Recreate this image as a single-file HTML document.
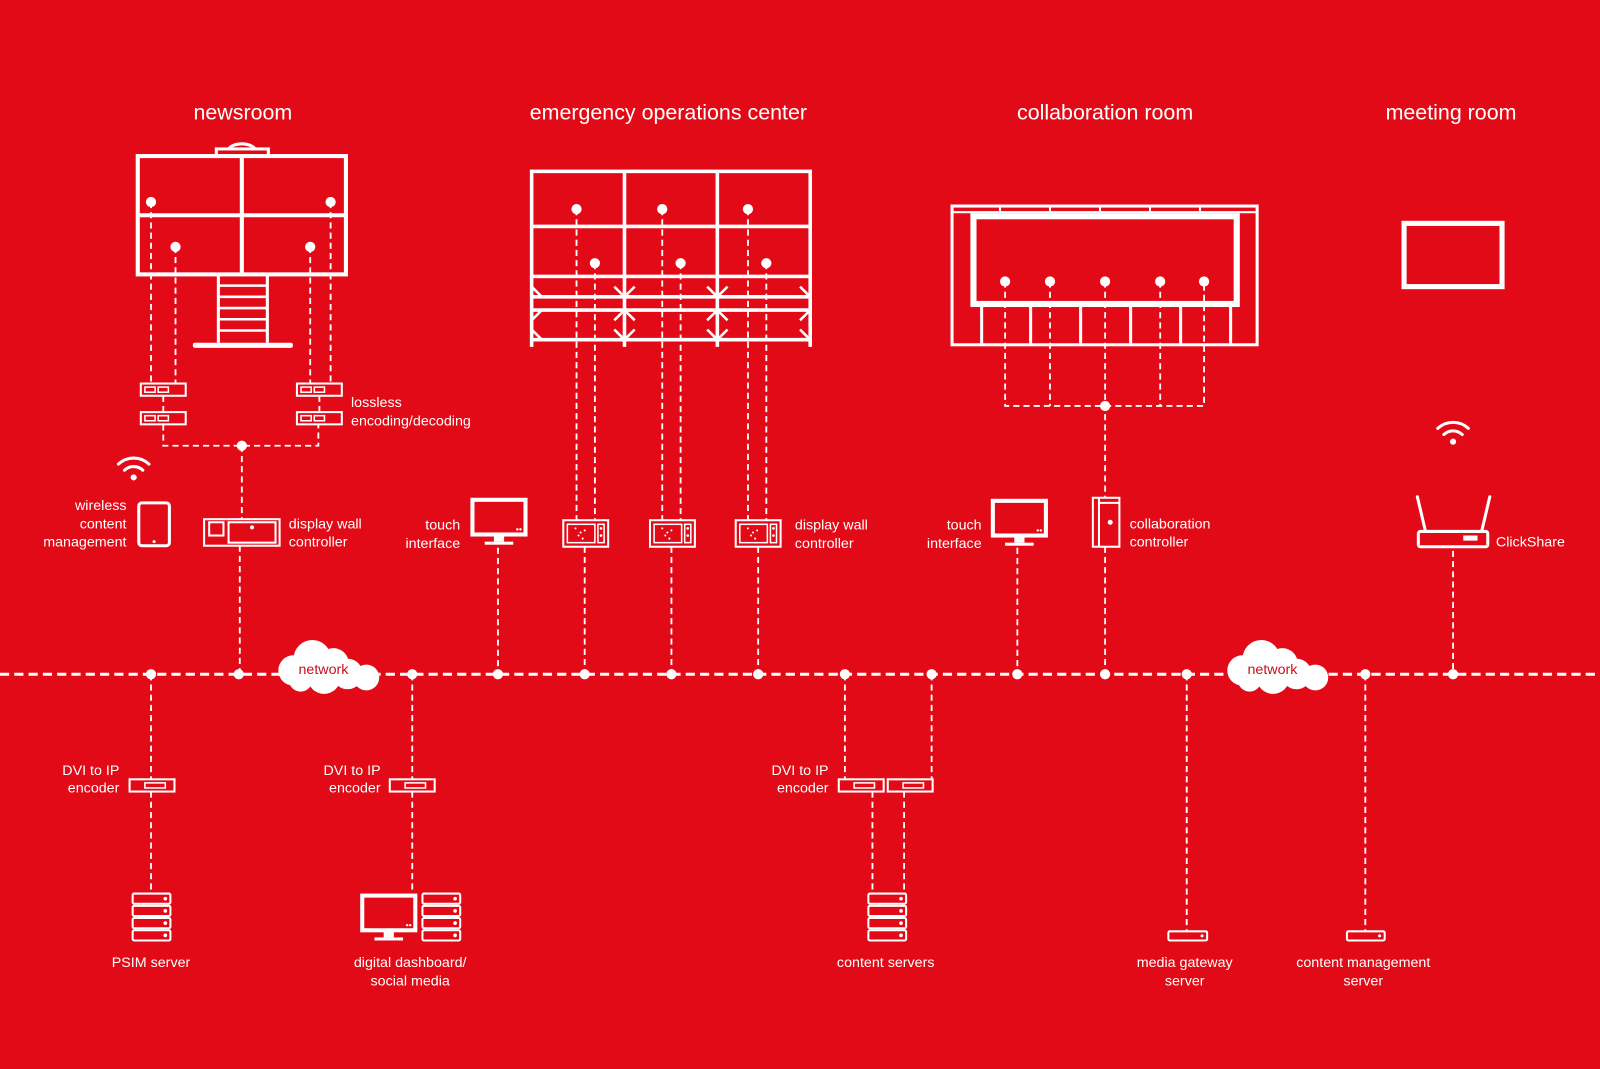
<!DOCTYPE html>
<html><head><meta charset="utf-8"><style>
html,body{margin:0;padding:0;background:#e30a17;}
svg{display:block}
text{font-family:"Liberation Sans",sans-serif;fill:#fff;font-size:14px;}
.t{font-size:21px;}
</style></head><body>
<svg width="1600" height="1069" viewBox="0 0 1568 1048" preserveAspectRatio="none" xmlns="http://www.w3.org/2000/svg">
<rect width="1568" height="1048" fill="#e30a17"/>
<defs>
<g id="srv"><g fill="none" stroke="#fff" stroke-width="2">
<rect x="0" y="0" width="37" height="10" rx="1.5"/><rect x="0" y="12" width="37" height="10" rx="1.5"/><rect x="0" y="24" width="37" height="10" rx="1.5"/><rect x="0" y="36" width="37" height="10" rx="1.5"/></g>
<g fill="#fff"><circle cx="32" cy="5" r="1.8"/><circle cx="32" cy="17" r="1.8"/><circle cx="32" cy="29" r="1.8"/><circle cx="32" cy="41" r="1.8"/></g></g>
<g id="enc"><rect x="0" y="0" width="44" height="12" fill="none" stroke="#fff" stroke-width="2"/><rect x="4" y="3.5" width="10" height="5" fill="none" stroke="#fff" stroke-width="1.5"/><rect x="17" y="3.5" width="10" height="5" fill="none" stroke="#fff" stroke-width="1.5"/></g>
<g id="dvi"><rect x="0" y="0" width="44" height="12" fill="none" stroke="#fff" stroke-width="2"/><rect x="15" y="3.5" width="20" height="5" fill="none" stroke="#fff" stroke-width="1.5"/></g>
<g id="mon"><rect x="0" y="0" width="52" height="34" fill="none" stroke="#fff" stroke-width="4"/><rect x="21" y="34" width="10" height="7" fill="#fff"/><rect x="12" y="41" width="28" height="3" fill="#fff"/><circle cx="44" cy="29" r="1.2" fill="#fff"/><circle cx="47" cy="29" r="1.2" fill="#fff"/></g>
<g id="dwc"><rect x="0" y="0" width="44" height="26" fill="none" stroke="#fff" stroke-width="2"/><rect x="4" y="4" width="27" height="18" fill="none" stroke="#fff" stroke-width="1.5"/><rect x="34" y="4" width="6" height="18" fill="none" stroke="#fff" stroke-width="1.5"/><g fill="#fff"><circle cx="37" cy="8" r="1.3"/><circle cx="37" cy="15" r="1.3"/><circle cx="12" cy="8" r="1"/><circle cx="17" cy="12" r="1"/><circle cx="21" cy="10" r="1"/><circle cx="15" cy="15" r="1"/><circle cx="19" cy="18" r="1"/></g></g>
<g id="wifi" fill="none" stroke="#fff" stroke-width="3" stroke-linecap="round"><path d="M-15,-8 A22,22 0 0 1 15,-8"/><path d="M-9,-2 A13,13 0 0 1 9,-2"/><circle cx="0" cy="5" r="3" fill="#fff" stroke="none"/></g>
<g id="cloud" fill="#fff"><circle cx="-22" cy="2" r="13"/><circle cx="-6" cy="-8" r="16"/><circle cx="12" cy="-4" r="13"/><circle cx="24" cy="5" r="13"/><circle cx="4" cy="8" r="14"/><circle cx="-16" cy="10" r="10"/><circle cx="40" cy="8" r="11"/></g>
</defs>

<text class="t" x="238" y="117" text-anchor="middle">newsroom</text>
<text class="t" x="655" y="117" text-anchor="middle">emergency operations center</text>
<text class="t" x="1083" y="117" text-anchor="middle">collaboration room</text>
<text class="t" x="1422" y="117" text-anchor="middle">meeting room</text>

<g stroke="#fff" stroke-width="1.8" stroke-dasharray="6,4" fill="none">
<path d="M148,198V376 M172,242V376 M304,242V376 M324,198V376"/>
<path d="M160,388V404 M313,388V404 M160,416V437H312V416 M237,437V509 M235,535V661"/>
<path d="M565,205V510 M583,258V510 M649,205V510 M667,258V510 M733,205V510 M751,258V510"/>
<path d="M573,536V661 M658,536V661 M743,536V661 M488,537V661"/>
<path d="M985,276V398H1180V276 M1029,276V398 M1083,276V488 M1137,276V398 M1083,536V661 M997,537V661"/>
<path d="M1424,540V661"/>
<path d="M148,661V764 M148,776V876 M404,661V764 M404,776V876"/>
<path d="M828,661V764 M913,661V764 M855,776V876 M886,776V876"/>
<path d="M1163,661V913 M1338,661V913"/>
</g>
<path d="M0,661H1568" stroke="#fff" stroke-width="3" stroke-dasharray="9,5"/>

<g fill="#fff">
<circle cx="148" cy="661" r="5"/><circle cx="234" cy="661" r="5"/><circle cx="404" cy="661" r="5"/><circle cx="488" cy="661" r="5"/><circle cx="573" cy="661" r="5"/><circle cx="658" cy="661" r="5"/><circle cx="743" cy="661" r="5"/><circle cx="828" cy="661" r="5"/><circle cx="913" cy="661" r="5"/><circle cx="997" cy="661" r="5"/><circle cx="1083" cy="661" r="5"/><circle cx="1163" cy="661" r="5"/><circle cx="1338" cy="661" r="5"/><circle cx="1424" cy="661" r="5"/>
<circle cx="237" cy="437" r="5"/><circle cx="1083" cy="398" r="5"/>
</g>
<use href="#cloud" transform="translate(313,655) scale(1.15)"/>
<use href="#cloud" transform="translate(1243,655) scale(1.15)"/>
<text x="317" y="661" text-anchor="middle" style="fill:#c8101c;font-size:14px">network</text>
<text x="1247" y="661" text-anchor="middle" style="fill:#c8101c;font-size:14px">network</text>

<g fill="none" stroke="#fff" stroke-width="4">
<rect x="135" y="153" width="204" height="116"/>
<path d="M237,153V269 M135,211H339"/>
<rect x="212" y="146" width="51" height="7" stroke-width="3"/>
<path d="M224,146 A14,8 0 0 1 250,146" stroke-width="3"/>
<path d="M214,269V336 M262,269V336" stroke-width="3"/>
<path d="M214,280H262 M214,291H262 M214,302H262 M214,313H262 M214,324H262" stroke-width="2.5"/>
</g>
<rect x="189" y="336" width="98" height="5" rx="2" fill="#fff"/>
<g fill="#fff"><circle cx="148" cy="198" r="5"/><circle cx="324" cy="198" r="5"/><circle cx="172" cy="242" r="5"/><circle cx="304" cy="242" r="5"/></g>
<use href="#enc" x="138" y="376"/><use href="#enc" x="138" y="404"/>
<use href="#enc" x="291" y="376"/><use href="#enc" x="291" y="404"/>
<text x="344" y="399">lossless</text>
<text x="344" y="417">encoding/decoding</text>

<use href="#wifi" x="131" y="463"/>
<rect x="136" y="493" width="30" height="42" rx="3" fill="none" stroke="#fff" stroke-width="3"/>
<circle cx="151" cy="531" r="1.5" fill="#fff"/>
<text x="124" y="500" text-anchor="end">wireless</text>
<text x="124" y="518" text-anchor="end">content</text>
<text x="124" y="536" text-anchor="end">management</text>

<g fill="none" stroke="#fff" stroke-width="2"><rect x="200" y="509" width="74" height="26"/><rect x="205" y="512" width="14" height="13"/><rect x="224" y="512" width="46" height="20"/></g>
<circle cx="247" cy="517" r="2" fill="#fff"/>
<text x="283" y="518">display wall</text>
<text x="283" y="536">controller</text>

<use href="#mon" x="463" y="490"/>
<text x="451" y="519" text-anchor="end">touch</text>
<text x="451" y="537" text-anchor="end">interface</text>

<g fill="none" stroke="#fff" stroke-width="3.5">
<rect x="521" y="168" width="273" height="103"/>
<path d="M612,168V340 M703,168V340 M521,222H794 M521,271V340 M794,271V340"/>
<path d="M521,291H794 M521,304H794 M521,333H794"/>
<path d="M521,281L531,291 M521,314L531,304 M521,323L531,333 M602,281L612,291 M622,281L612,291 M602,314L612,304 M622,314L612,304 M602,323L612,333 M622,323L612,333 M693,281L703,291 M713,281L703,291 M693,314L703,304 M713,314L703,304 M693,323L703,333 M713,323L703,333 M784,281L794,291 M784,314L794,304 M784,323L794,333" stroke-width="2.5"/>
</g>
<g fill="#fff"><circle cx="565" cy="205" r="5"/><circle cx="649" cy="205" r="5"/><circle cx="733" cy="205" r="5"/><circle cx="583" cy="258" r="5"/><circle cx="667" cy="258" r="5"/><circle cx="751" cy="258" r="5"/></g>
<use href="#dwc" x="552" y="510"/><use href="#dwc" x="637" y="510"/><use href="#dwc" x="721" y="510"/>
<text x="779" y="519">display wall</text>
<text x="779" y="537">controller</text>

<g fill="none" stroke="#fff">
<rect x="933" y="202" width="299" height="136" stroke-width="3"/>
<rect x="954" y="212" width="258" height="86" stroke-width="6"/>
<path d="M933,208H1232" stroke-width="2"/>
<path d="M980,202V208 M1029,202V208 M1078,202V208 M1127,202V208 M1176,202V208" stroke-width="2"/>
<path d="M962,298V338 M1010,298V338 M1059,298V338 M1108,298V338 M1157,298V338 M1206,298V338" stroke-width="3"/>
</g>
<g fill="#fff"><circle cx="985" cy="276" r="5"/><circle cx="1029" cy="276" r="5"/><circle cx="1083" cy="276" r="5"/><circle cx="1137" cy="276" r="5"/><circle cx="1180" cy="276" r="5"/></g>
<use href="#mon" x="973" y="491"/>
<text x="962" y="519" text-anchor="end">touch</text>
<text x="962" y="537" text-anchor="end">interface</text>
<g fill="none" stroke="#fff" stroke-width="2"><rect x="1071" y="488" width="26" height="48"/><path d="M1077,488V536 M1077,493H1097"/></g>
<circle cx="1088" cy="512" r="2.5" fill="#fff"/>
<text x="1107" y="518">collaboration</text>
<text x="1107" y="536">controller</text>

<rect x="1376" y="219" width="96" height="62" fill="none" stroke="#fff" stroke-width="5"/>
<use href="#wifi" x="1424" y="428"/>
<g fill="none" stroke="#fff" stroke-width="3" stroke-linecap="round"><path d="M1389,487L1397,521 M1460,487L1452,521"/><rect x="1390" y="521" width="68" height="15" rx="2"/></g>
<rect x="1434" y="525" width="14" height="5" fill="#fff"/>
<text x="1466" y="536">ClickShare</text>

<use href="#dvi" x="127" y="764"/>
<text x="117" y="760" text-anchor="end">DVI to IP</text>
<text x="117" y="777" text-anchor="end">encoder</text>
<use href="#srv" x="130" y="876"/>
<text x="148" y="948" text-anchor="middle">PSIM server</text>

<use href="#dvi" x="382" y="764"/>
<text x="373" y="760" text-anchor="end">DVI to IP</text>
<text x="373" y="777" text-anchor="end">encoder</text>
<use href="#mon" x="355" y="878"/>
<use href="#srv" x="414" y="876"/>
<text x="402" y="948" text-anchor="middle">digital dashboard/</text>
<text x="402" y="966" text-anchor="middle">social media</text>

<use href="#dvi" x="822" y="764"/><use href="#dvi" x="870" y="764"/>
<text x="812" y="760" text-anchor="end">DVI to IP</text>
<text x="812" y="777" text-anchor="end">encoder</text>
<use href="#srv" x="851" y="876"/>
<text x="868" y="948" text-anchor="middle">content servers</text>

<rect x="1145" y="913" width="38" height="9" rx="1.5" fill="none" stroke="#fff" stroke-width="2"/><circle cx="1178" cy="917.5" r="1.5" fill="#fff"/>
<text x="1161" y="948" text-anchor="middle">media gateway</text>
<text x="1161" y="966" text-anchor="middle">server</text>
<rect x="1320" y="913" width="37" height="9" rx="1.5" fill="none" stroke="#fff" stroke-width="2"/><circle cx="1352" cy="917.5" r="1.5" fill="#fff"/>
<text x="1336" y="948" text-anchor="middle">content management</text>
<text x="1336" y="966" text-anchor="middle">server</text>
</svg>
</body></html>
